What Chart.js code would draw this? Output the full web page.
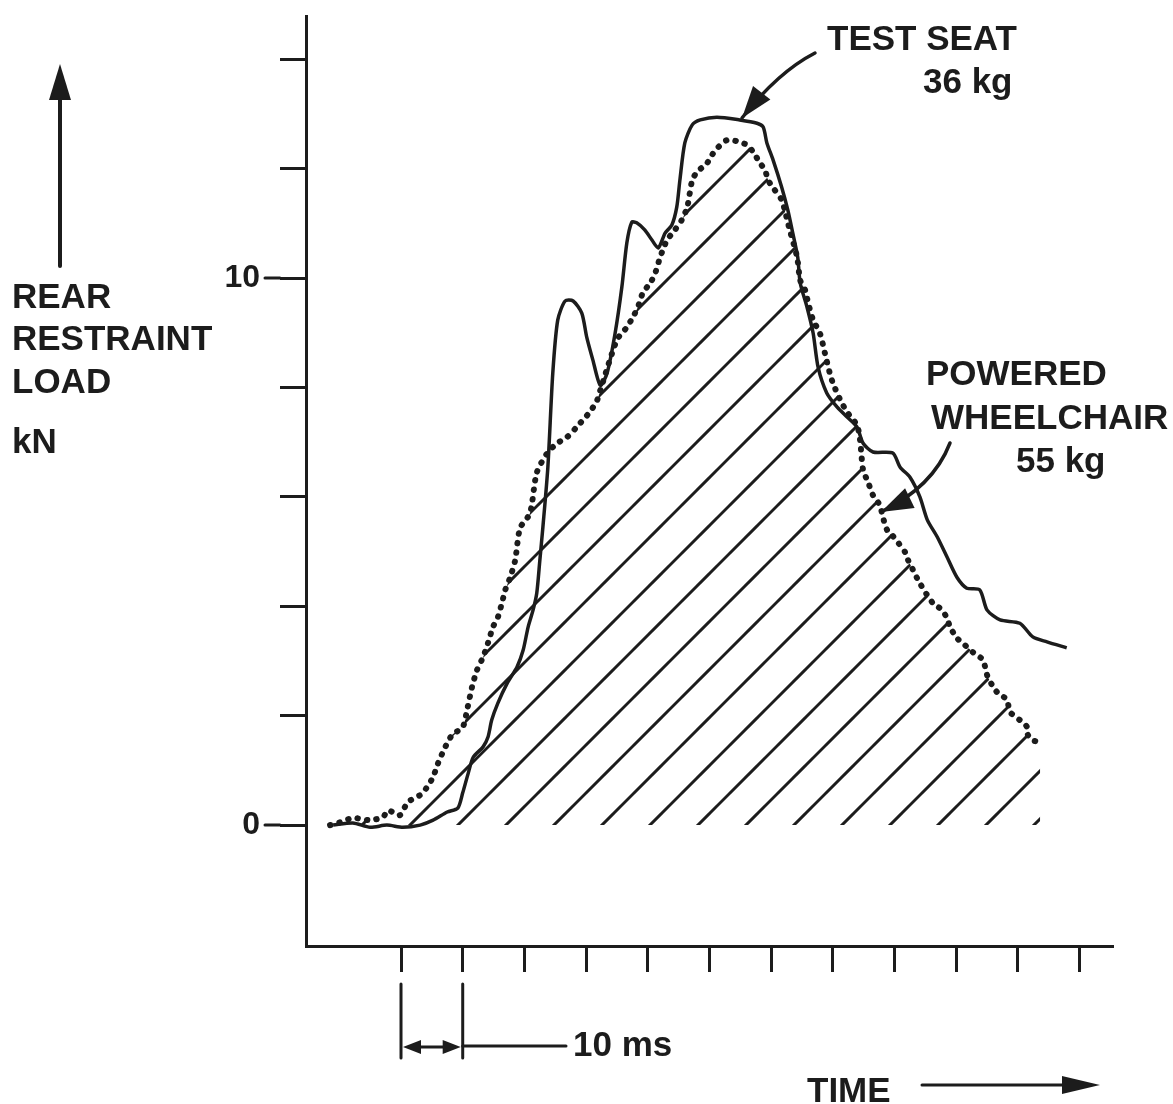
<!DOCTYPE html>
<html>
<head>
<meta charset="utf-8">
<script src="https://cdn.jsdelivr.net/npm/chart.js@4.4.1/dist/chart.umd.min.js"></script>
<style>
  html, body { margin: 0; padding: 0; background: #fff; }
  #wrap { width: 1173px; height: 1104px; }
</style>
</head>
<body>
<div id="wrap"><canvas id="loadChart" width="1173" height="1104"></canvas></div>
<script>
// time in ms, load in kN
const testSeatTime = [-1.0, 2.2, 5.0, 7.7, 10.3, 13.1, 15.2, 17.5, 19.2, 20.0, 20.9, 21.7, 23.3, 24.1, 24.7, 25.7, 27.2, 28.8, 29.8, 30.6,
    31.4, 32.0, 32.5, 33.0, 33.8, 34.6, 35.4, 36.6, 37.9, 39.3, 40.1, 41.1, 42.3, 43.4, 44.7, 45.8, 46.6, 47.4, 48.2, 49.5,
    50.7, 51.7, 52.8, 53.9, 54.7, 55.2, 56.0, 57.2, 58.5, 61.2, 64.9, 67.7, 68.7, 69.3, 70.3, 71.7, 72.7, 73.5, 74.3, 74.7,
    75.8, 76.8, 77.6, 79.0, 80.7, 82.3, 83.9, 84.9, 86.5, 89.7, 90.9, 92.5, 94.1, 95.3, 96.9, 98.5, 100.1, 101.7, 103.8, 105.0,
    107.1, 110.3, 112.4, 114.7, 117.9];
const testSeatLoad = [0, 0.04, -0.04, 0, -0.04, 0, 0.09, 0.24, 0.31, 0.59, 0.95, 1.24, 1.43, 1.61, 1.92, 2.23, 2.59, 2.89, 3.20, 3.62,
    3.93, 4.24, 4.84, 5.45, 6.54, 8.26, 9.23, 9.58, 9.58, 9.36, 8.92, 8.50, 8.04, 8.26, 8.99, 9.84, 10.64, 11.02, 11.01, 10.88,
    10.69, 10.55, 10.82, 10.97, 11.30, 11.79, 12.47, 12.80, 12.89, 12.94, 12.89, 12.83, 12.76, 12.47, 12.16, 11.66, 11.24, 10.82, 10.38, 9.91,
    9.47, 8.99, 8.37, 7.90, 7.64, 7.46, 7.28, 6.98, 6.82, 6.80, 6.54, 6.36, 6.00, 5.58, 5.27, 4.90, 4.53, 4.33, 4.30, 3.93,
    3.75, 3.69, 3.44, 3.35, 3.24];

const wheelchairTime = [-1.5, 0.1, 2.2, 5.0, 7.1, 7.9, 9.8, 11.1, 13.1, 14.2, 15.2, 16.0, 17.1, 18.3, 20.0, 20.7, 21.5, 22.3, 23.3, 24.1,
    24.9, 25.7, 26.4, 26.9, 27.7, 28.5, 29.3, 30.9, 32.0, 33.7, 35.3, 36.9, 38.5, 40.6, 41.8, 42.3, 45.0, 46.6, 47.6, 48.4,
    49.2, 50.4, 51.2, 52.0, 53.1, 54.4, 55.5, 56.4, 57.2, 58.0, 59.6, 60.4, 61.4, 62.8, 64.5, 66.1, 67.1, 68.2, 69.0, 69.5,
    70.3, 71.7, 72.2, 73.0, 74.2, 74.7, 75.5, 76.0, 76.8, 77.9, 78.7, 79.5, 80.0, 81.2, 82.3, 83.9, 84.4, 84.9, 85.7, 86.5,
    87.6, 88.1, 88.8, 89.6, 90.6, 91.7, 92.2, 93.0, 93.8, 95.3, 96.2, 97.7, 98.5, 99.0, 100.1, 101.4, 102.7, 104.3, 105.0, 105.8,
    106.6, 108.2, 108.7, 110.3, 111.5, 111.6, 112.4, 113.6];
const wheelchairLoad = [0, 0.05, 0.13, 0.09, 0.15, 0.27, 0.18, 0.42, 0.55, 0.69, 0.88, 1.13, 1.41, 1.65, 1.79, 2.10, 2.52, 2.83, 3.07, 3.33,
    3.62, 3.80, 4.08, 4.30, 4.53, 4.84, 5.43, 5.70, 6.44, 6.80, 6.98, 7.09, 7.28, 7.55, 7.77, 7.95, 8.87, 9.10, 9.29, 9.47,
    9.73, 9.91, 10.09, 10.38, 10.69, 10.88, 11.06, 11.30, 11.79, 11.94, 12.10, 12.25, 12.39, 12.52, 12.50, 12.43, 12.30, 12.10, 11.97, 11.79,
    11.65, 11.43, 11.24, 10.88, 10.38, 9.96, 9.78, 9.54, 9.23, 8.99, 8.63, 8.26, 8.08, 7.77, 7.55, 7.31, 7.04, 6.49, 6.27, 6.03,
    5.85, 5.63, 5.39, 5.30, 5.16, 4.99, 4.84, 4.66, 4.48, 4.20, 4.06, 3.93, 3.78, 3.62, 3.42, 3.29, 3.16, 3.02, 2.74, 2.56,
    2.43, 2.29, 2.07, 1.92, 1.79, 1.65, 1.55, 1.52];

const yTicks = [0, 2, 4, 6, 8, 10, 12, 14];
const yLabelled = [0, 10];
const xTicks = [10, 20, 30, 40, 50, 60, 70, 80, 90, 100, 110, 120];
const scaleBar = [10, 20]; // the "10 ms" bracket

const INK = '#1c1c1c';
const FONT = '"Liberation Sans", Arial, sans-serif';

// diagonal hatching under the wheelchair trace
function hatchPattern() {
    const size = 48, off = 35;
    const c = document.createElement('canvas');
    c.width = size; c.height = size;
    const g = c.getContext('2d');
    g.strokeStyle = INK;
    g.lineWidth = 3;
    for (let k = -1; k <= 1; k++) {
        const s = off + k * size;
        g.beginPath();
        g.moveTo(-10, s + 10);
        g.lineTo(s + 10, -10);
        g.stroke();
    }
    return g.createPattern(c, 'repeat');
}

function arrowHead(ctx, tx, ty, fx, fy, len, half) {
    const a = Math.atan2(ty - fy, tx - fx);
    const bx = tx - len * Math.cos(a), by = ty - len * Math.sin(a);
    ctx.beginPath();
    ctx.moveTo(tx, ty);
    ctx.lineTo(bx + half * Math.sin(a), by - half * Math.cos(a));
    ctx.lineTo(bx - half * Math.sin(a), by + half * Math.cos(a));
    ctx.closePath();
    ctx.fill();
}

function curvedArrow(ctx, sx, sy, cx, cy, ex, ey) {
    ctx.beginPath();
    ctx.moveTo(sx, sy);
    ctx.quadraticCurveTo(cx, cy, ex, ey);
    ctx.stroke();
    arrowHead(ctx, ex, ey, cx, cy, 32, 11);
}

const annotations = {
    id: 'annotations',
    afterDraw(chart) {
        const { ctx, scales: { x, y } } = chart;
        ctx.save();
        ctx.strokeStyle = INK;
        ctx.fillStyle = INK;
        ctx.lineCap = 'round';

        // longer tick marks next to labelled values
        ctx.lineWidth = 3;
        yLabelled.forEach(v => {
            const py = y.getPixelForValue(v);
            ctx.beginPath();
            ctx.moveTo(y.right - 26, py);
            ctx.lineTo(y.right - 41, py);
            ctx.stroke();
        });

        // axis title
        ctx.font = 'bold 35px ' + FONT;
        ctx.textAlign = 'left';
        ctx.textBaseline = 'alphabetic';
        ctx.fillText('REAR', 12, 308);
        ctx.fillText('RESTRAINT', 12, 350);
        ctx.fillText('LOAD', 12, 393);
        ctx.fillText('kN', 12, 453);

        ctx.lineWidth = 4;
        ctx.beginPath();
        ctx.moveTo(60, 266);
        ctx.lineTo(60, 95);
        ctx.stroke();
        arrowHead(ctx, 60, 64, 60, 120, 36, 11);

        // curve labels
        ctx.fillText('TEST SEAT', 827, 50);
        ctx.fillText('36 kg', 923, 93);
        ctx.fillText('POWERED', 926, 385);
        ctx.fillText('WHEELCHAIR', 931, 429);
        ctx.fillText('55 kg', 1016, 472);

        ctx.lineWidth = 3.5;
        curvedArrow(ctx, 815, 53, 778, 72, 742, 118);
        curvedArrow(ctx, 950, 443, 933, 487, 881, 512);

        // 10 ms bracket
        const x0 = x.getPixelForValue(scaleBar[0]);
        const x1 = x.getPixelForValue(scaleBar[1]);
        ctx.lineWidth = 3;
        [x0, x1].forEach(px => {
            ctx.beginPath();
            ctx.moveTo(px, 984);
            ctx.lineTo(px, 1058);
            ctx.stroke();
        });
        ctx.beginPath();
        ctx.moveTo(x0 + 10, 1047);
        ctx.lineTo(x1 - 10, 1047);
        ctx.stroke();
        arrowHead(ctx, x0 + 2, 1047, x1, 1047, 18, 7);
        arrowHead(ctx, x1 - 2, 1047, x0, 1047, 18, 7);
        ctx.beginPath();
        ctx.moveTo(x1, 1046);
        ctx.lineTo(566, 1046);
        ctx.stroke();
        ctx.fillText('10 ms', 573, 1056);

        // time arrow
        ctx.fillText('TIME', 807, 1102);
        ctx.lineWidth = 3;
        ctx.beginPath();
        ctx.moveTo(922, 1085);
        ctx.lineTo(1070, 1085);
        ctx.stroke();
        arrowHead(ctx, 1100, 1085, 922, 1085, 38, 9);

        ctx.restore();
    }
};

new Chart(document.getElementById('loadChart'), {
    type: 'line',
    data: {
        datasets: [
            {
                label: 'Test seat 36 kg',
                data: testSeatTime.map((t, i) => ({ x: t, y: testSeatLoad[i] })),
                borderColor: INK,
                borderWidth: 3.5,
                pointRadius: 0,
                tension: 0.25,
                fill: false
            },
            {
                label: 'Powered wheelchair 55 kg',
                data: wheelchairTime.map((t, i) => ({ x: t, y: wheelchairLoad[i] })),
                borderColor: INK,
                borderWidth: 6,
                borderDash: [0.5, 9],
                borderCapStyle: 'round',
                pointRadius: 0,
                tension: 0.25,
                fill: 'origin',
                backgroundColor: hatchPattern()
            }
        ]
    },
    options: {
        responsive: false,
        animation: false,
        events: [],
        layout: { padding: { left: 0, top: 16, right: 60, bottom: 0 } },
        plugins: { legend: { display: false }, tooltip: { enabled: false } },
        scales: {
            x: {
                type: 'linear',
                min: -5.4,
                max: 125.4,
                afterBuildTicks: s => { s.ticks = xTicks.map(v => ({ value: v })); },
                afterFit: s => { s.height = 158; s.paddingLeft = 0; s.paddingRight = 0; },
                ticks: { callback: () => '', font: { size: 10 } },
                grid: { drawOnChartArea: false, drawTicks: true, tickLength: 26, tickWidth: 3, tickColor: INK, color: INK },
                border: { display: true, color: INK, width: 3 }
            },
            y: {
                type: 'linear',
                min: -2.21,
                max: 14.79,
                afterBuildTicks: s => { s.ticks = yTicks.map(v => ({ value: v })); },
                afterFit: s => { s.width = 306; s.paddingTop = 0; s.paddingBottom = 0; },
                ticks: {
                    callback: v => yLabelled.includes(v) ? String(v) : '',
                    color: INK,
                    padding: 20,
                    font: { family: FONT, size: 32, weight: 'bold' }
                },
                grid: { drawOnChartArea: false, drawTicks: true, tickLength: 26, tickWidth: 3, tickColor: INK, color: INK },
                border: { display: true, color: INK, width: 3 }
            }
        }
    },
    plugins: [annotations]
});
</script>
</body>
</html>
